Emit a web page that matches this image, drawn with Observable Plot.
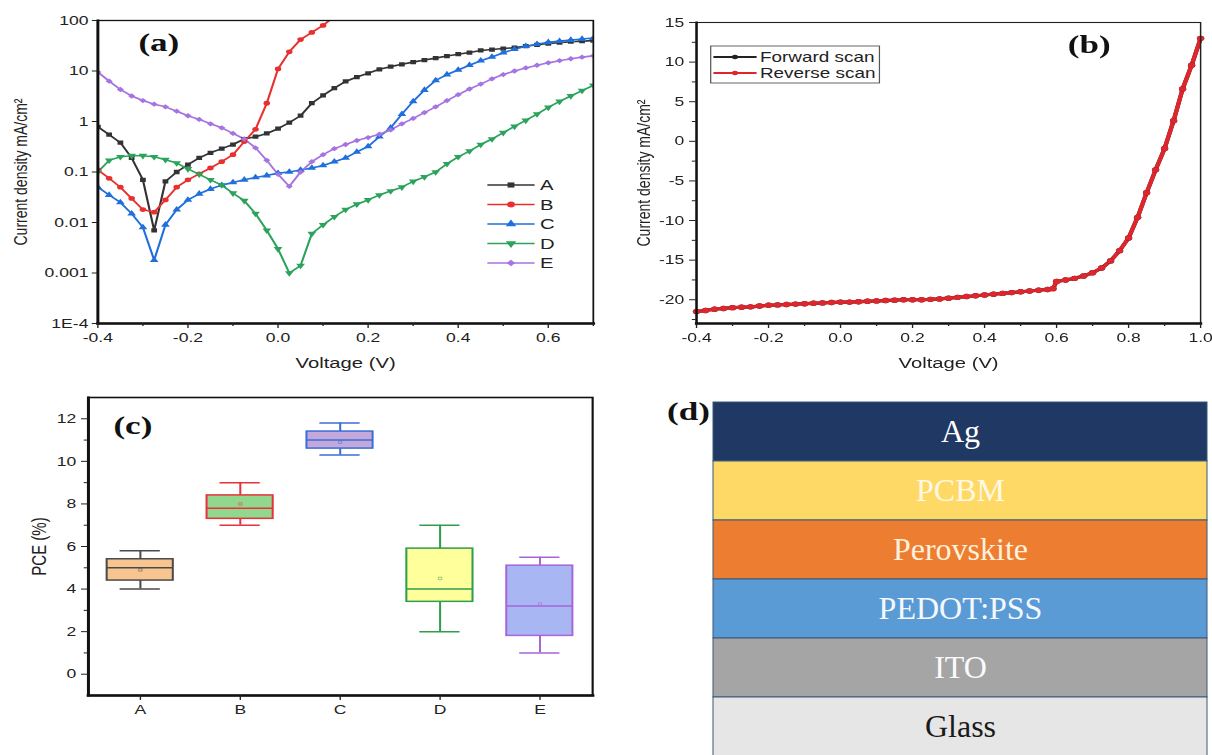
<!DOCTYPE html>
<html><head><meta charset="utf-8">
<script src="https://cdn.jsdelivr.net/npm/d3@7"></script>
<script src="https://cdn.jsdelivr.net/npm/@observablehq/plot@0.6"></script>
<style>
body{margin:0;background:#fff;}
#root{position:relative;width:1212px;height:755px;overflow:hidden;background:#fff;font-family:"Liberation Sans",Arial,sans-serif;}
.panel{position:absolute;transform-origin:0 0;}
.panel svg{display:block;overflow:visible;}
</style></head><body><div id="root"></div>
<script>
// ---------------- DATA ----------------
// (a) dark J-V, log scale
const seriesA = ["A","B","C","D","E"];
const voltageA = [-0.4,-0.375,-0.35,-0.325,-0.3,-0.275,-0.25,-0.225,-0.2,-0.175,-0.15,-0.125,-0.1,-0.075,-0.05,-0.025,0,0.025,0.05,0.075,0.1,0.125,0.15,0.175,0.2,0.225,0.25,0.275,0.3,0.325,0.35,0.375,0.4,0.425,0.45,0.475,0.5,0.525,0.55,0.575,0.6,0.625,0.65,0.675,0.7];
const jA = [0.78,0.55,0.38,0.19,0.07,0.007,0.065,0.1,0.14,0.19,0.24,0.29,0.35,0.45,0.5,0.58,0.72,0.95,1.3,2.3,3.3,4.6,6.2,7.6,9.0,10.8,12.2,13.6,15,16.5,18,19.8,21.5,23.2,25.5,26.6,27.8,29,31,33,35,36.5,38,39,40];
const jB = [0.11,0.075,0.05,0.03,0.018,0.016,0.028,0.05,0.07,0.092,0.12,0.16,0.22,0.4,0.7,2.3,11,24,42,58,80,120];
const jC = [0.05,0.035,0.025,0.015,0.008,0.0018,0.009,0.018,0.028,0.037,0.046,0.055,0.062,0.07,0.078,0.085,0.095,0.1,0.11,0.12,0.135,0.16,0.19,0.25,0.32,0.5,0.75,1.4,2.5,4.2,6.5,8.5,10.5,13,16,19,23,27,31,34,37,39,41,43,45];
const jD = [0.1,0.17,0.2,0.21,0.21,0.2,0.175,0.15,0.115,0.09,0.07,0.055,0.038,0.027,0.015,0.007,0.003,0.001,0.0014,0.006,0.009,0.013,0.018,0.023,0.028,0.035,0.042,0.05,0.065,0.08,0.1,0.145,0.2,0.26,0.35,0.45,0.6,0.8,1.05,1.4,1.9,2.5,3.2,4.1,5.2];
const jE = [9.5,6.3,4.3,3.2,2.6,2.2,1.95,1.6,1.3,1.1,0.9,0.75,0.58,0.45,0.3,0.17,0.09,0.052,0.1,0.16,0.22,0.29,0.35,0.42,0.48,0.56,0.68,0.9,1.15,1.5,1.95,2.6,3.4,4.4,5.5,7,8.5,10,11.5,13,14.5,16,17.5,18.8,20];
const yTicksA = [1e-4,1e-3,1e-2,0.1,1,10,100];
const yTickLabelsA = ["1E-4","0.001","0.01","0.1","1","10","100"];
const xTicksA = [-0.4,-0.2,0,0.2,0.4,0.6];
const xMinorA = [-0.3,-0.1,0.1,0.3,0.5,0.7];

// (b) illuminated J-V
const scansB = ["Forward scan","Reverse scan"];
const voltageB = [-0.4,-0.375,-0.35,-0.325,-0.3,-0.275,-0.25,-0.225,-0.2,-0.175,-0.15,-0.125,-0.1,-0.075,-0.05,-0.025,0,0.025,0.05,0.075,0.1,0.125,0.15,0.175,0.2,0.225,0.25,0.275,0.3,0.325,0.35,0.375,0.4,0.425,0.45,0.475,0.5,0.525,0.55,0.575,0.59,0.6,0.625,0.65,0.675,0.7,0.725,0.75,0.775,0.8,0.825,0.85,0.875,0.9,0.925,0.95,0.975,1.0];
const jReverse = [-21.5,-21.35,-21.2,-21.1,-21.0,-20.95,-20.9,-20.8,-20.7,-20.65,-20.6,-20.55,-20.5,-20.45,-20.4,-20.35,-20.3,-20.3,-20.25,-20.2,-20.15,-20.1,-20.05,-20.0,-20.0,-20.0,-19.95,-19.9,-19.8,-19.7,-19.6,-19.5,-19.4,-19.3,-19.2,-19.1,-19.0,-18.9,-18.8,-18.7,-18.6,-17.7,-17.5,-17.3,-17.0,-16.6,-16.0,-15.1,-13.8,-12.2,-9.6,-6.5,-3.6,-0.9,2.6,6.6,9.6,13.0];
const jForward = [-21.5,-21.35,-21.2,-21.1,-21.0,-20.95,-20.9,-20.8,-20.7,-20.65,-20.6,-20.55,-20.5,-20.45,-20.4,-20.35,-20.3,-20.3,-20.25,-20.2,-20.15,-20.1,-20.05,-20.0,-20.0,-20.0,-19.95,-19.9,-19.8,-19.7,-19.6,-19.5,-19.4,-19.3,-19.2,-19.1,-19.0,-18.9,-18.8,-18.7,-18.6,-17.7,-17.5,-17.3,-17.0,-16.6,-16.0,-15.1,-13.8,-12.2,-9.6,-6.5,-3.6,-0.9,2.6,6.6,9.6,13.0];
const xTicksB = [-0.4,-0.2,0,0.2,0.4,0.6,0.8,1.0];
const xMinorB = [-0.3,-0.1,0.1,0.3,0.5,0.7,0.9];
const yTicksB = [-20,-15,-10,-5,0,5,10,15];
const yMinorB = [-22.5,-17.5,-12.5,-7.5,-2.5,2.5,7.5,12.5];

// (c) PCE box plot
const devicesC = ["A","B","C","D","E"];
const pceMin = [4.0,7.0,10.3,2.0,1.0];
const pceQ1 = [4.4,7.3,10.6,3.4,1.8];
const pceMedian = [5.0,7.8,11.0,4.0,3.2];
const pceQ3 = [5.4,8.4,11.4,5.9,5.1];
const pceMax = [5.8,9.0,11.8,7.0,5.5];
const pceMean = [4.9,8.0,10.9,4.5,3.3];
const yTicksC = [0,2,4,6,8,10,12];
const yMinorC = [1,3,5,7,9,11];

// (d) device layers (top to bottom)
const layersD = ["Ag","PCBM","Perovskite","PEDOT:PSS","ITO","Glass"];

// ---------------- HELPERS ----------------
const SX = 1.35;
const root = document.getElementById("root");
function panel(left, top, stretch) {
  const d = document.createElement("div");
  d.className = "panel";
  d.style.left = left + "px"; d.style.top = top + "px";
  if (stretch) d.style.transform = `scaleX(${stretch})`;
  root.appendChild(d);
  return d;
}
const fmt1 = d => d.toFixed(1);
const baseStyle = {fontFamily: '"Liberation Sans", Arial, sans-serif', fontSize: "13px", color: "#222", background: "transparent", overflow: "visible"};
const triangleDown = {draw(ctx, size) {
  const s3 = Math.sqrt(3), y = Math.sqrt(size / (s3 * 3));
  ctx.moveTo(0, y * 2); ctx.lineTo(-s3 * y, -y); ctx.lineTo(s3 * y, -y); ctx.closePath();
}};
const colorsA = ["#333333","#e8312f","#1f6fdc","#2ba35a","#a674e0"];
const symbolsA = [d3.symbolSquare, d3.symbolCircle, d3.symbolTriangle, triangleDown, d3.symbolDiamond2];
const panelLabel = (t, dx, dy) => Plot.text([t], {frameAnchor: "top-left", textAnchor: "start", lineAnchor: "top", dx, dy, fontFamily: '"Liberation Serif", serif', fontWeight: "bold", fontSize: 26, fill: "#111"});
const yLabel = (t, dx, size) => Plot.text([t], {frameAnchor: "left", textAnchor: "middle", lineAnchor: "middle", rotate: -90, dx, fontSize: size, fill: "#222"});

// ---------------- PANEL (a) ----------------
{
  const valuesA = [jA, jB, jC, jD, jE];
  const rowsA = seriesA.flatMap((s, k) => valuesA[k].map((j, i) => ({series: s, v: voltageA[i], j})));
  const W = 444;
  const p = Plot.plot({
    width: W, height: 380, marginLeft: 72, marginRight: 5, marginTop: 20, marginBottom: 57,
    style: baseStyle,
    x: {domain: [-0.4, 0.7]},
    y: {type: "log", domain: [1e-4, 100]},
    color: {domain: seriesA, range: colorsA},
    symbol: {domain: seriesA, range: symbolsA},
    marks: [
      Plot.line(rowsA, {x: "v", y: "j", z: "series", stroke: "series", strokeWidth: 1.6, clip: true}),
      Plot.dot(rowsA, {x: "v", y: "j", symbol: "series", fill: "series", r: 2.4, clip: true}),
      Plot.frame({stroke: "#111", strokeWidth: 1.3}),
      Plot.frame({anchor: "left", stroke: "#111", strokeWidth: 2.2}),
      Plot.frame({anchor: "bottom", stroke: "#111", strokeWidth: 2.6}),
      Plot.axisX(xTicksA, {tickSize: 5, tickPadding: 4, tickFormat: fmt1, label: null, fontSize: 13}),
      Plot.axisX(xMinorA, {tickSize: 3, tickFormat: () => "", label: null}),
      Plot.axisY(yTicksA, {tickSize: 4, tickPadding: 3, tickFormat: d => yTickLabelsA[yTicksA.indexOf(d)], label: null, fontSize: 13}),
      Plot.text(["Voltage (V)"], {frameAnchor: "bottom", dy: 40, lineAnchor: "middle", fontSize: 15, fill: "#222"}),
      yLabel("Current density mA/cm²", -57, 14),
      panelLabel("(a)", 30, 12)
    ]
  });
  const c = panel(0, 0, SX);
  c.appendChild(p);
  const lg = d3.create("svg").attr("width", W).attr("height", 380)
    .style("position", "absolute").style("left", 0).style("top", 0);
  seriesA.forEach((s, k) => {
    const y = 185 + k * 19.5;
    lg.append("line").attr("x1", 361).attr("x2", 396).attr("y1", y).attr("y2", y).attr("stroke", colorsA[k]).attr("stroke-width", 1.6);
    lg.append("path").attr("d", d3.symbol(symbolsA[k], 26)()).attr("transform", `translate(378.5,${y})`).attr("fill", colorsA[k]);
    lg.append("text").attr("x", 400).attr("y", y).attr("dy", "0.35em").attr("font-size", 15).attr("fill", "#222").text(s);
  });
  c.appendChild(lg.node());
}

// ---------------- PANEL (b) ----------------
{
  const valuesB = [jForward, jReverse];
  const colorsB = ["#222222", "#e0262c"];
  const rowsB = scansB.flatMap((s, k) => valuesB[k].map((j, i) => ({scan: s, v: voltageB[i], j})));
  const W = 453;
  const p = Plot.plot({
    width: W, height: 380, marginLeft: 71, marginRight: 8.6, marginTop: 22, marginBottom: 57,
    style: baseStyle,
    x: {domain: [-0.4, 1.0]},
    y: {domain: [-23, 15]},
    color: {domain: scansB, range: colorsB},
    marks: [
      Plot.line(rowsB, {x: "v", y: "j", z: "scan", stroke: "scan", strokeWidth: 3.2}),
      Plot.dot(rowsB, {x: "v", y: "j", fill: "scan", r: 2.7}),
      Plot.frame({stroke: "#222", strokeWidth: 1.1}),
      Plot.frame({anchor: "left", stroke: "#111", strokeWidth: 1.8}),
      Plot.frame({anchor: "bottom", stroke: "#111", strokeWidth: 2.4}),
      Plot.axisX(xTicksB, {tickSize: 5, tickPadding: 4, tickFormat: fmt1, label: null, fontSize: 13}),
      Plot.axisX(xMinorB, {tickSize: 3, tickFormat: () => "", label: null}),
      Plot.axisY(yTicksB, {tickSize: 5, tickPadding: 4, tickFormat: d => String(d), label: null, fontSize: 13}),
      Plot.axisY(yMinorB, {tickSize: 3, tickFormat: () => "", label: null}),
      Plot.text(["Voltage (V)"], {frameAnchor: "bottom", dy: 40, lineAnchor: "middle", fontSize: 15, fill: "#222"}),
      yLabel("Current density mA/cm²", -39, 14),
      panelLabel("(b)", 275, 12)
    ]
  });
  const c = panel(600, 0, SX);
  c.appendChild(p);
  const lg = d3.create("svg").attr("width", W).attr("height", 380)
    .style("position", "absolute").style("left", 0).style("top", 0);
  lg.append("rect").attr("x", 82).attr("y", 46).attr("width", 125).attr("height", 37).attr("fill", "#fff").attr("stroke", "#555").attr("stroke-width", 0.9);
  scansB.forEach((s, k) => {
    const y = 57 + k * 16;
    lg.append("line").attr("x1", 84).attr("x2", 116).attr("y1", y).attr("y2", y).attr("stroke", colorsB[k]).attr("stroke-width", 2);
    lg.append("circle").attr("cx", 100).attr("cy", y).attr("r", 2.2).attr("fill", colorsB[k]);
    lg.append("text").attr("x", 118.5).attr("y", y).attr("dy", "0.35em").attr("font-size", 14).attr("fill", "#222").text(s);
  });
  c.appendChild(lg.node());
}

// ---------------- PANEL (c) ----------------
{
  const rowsC = devicesC.map((cat, i) => ({cat, lo: pceMin[i], q1: pceQ1[i], med: pceMedian[i], q3: pceQ3[i], hi: pceMax[i], mean: pceMean[i]}));
  const strokeC = {A: "#4a4a4a", B: "#e8313b", C: "#3a6ed6", D: "#2e9d4c", E: "#a765d8"};
  const sc = d => strokeC[d.cat];
  const capInset = 9.6;
  const p = Plot.plot({
    width: 444, height: 375, marginLeft: 65, marginRight: 5.5, marginTop: 17, marginBottom: 60,
    style: baseStyle,
    x: {domain: devicesC, type: "band", paddingInner: 0.34, paddingOuter: 0.19},
    y: {domain: [-1, 13]},
    color: {domain: devicesC, range: ["#f8c490", "#92d78e", "#c3a8dc", "#ffff9c", "#a9b6f4"]},
    marks: [
      Plot.ruleX(rowsC, {x: "cat", y1: "lo", y2: "q1", stroke: sc, strokeWidth: 1.5}),
      Plot.ruleX(rowsC, {x: "cat", y1: "q3", y2: "hi", stroke: sc, strokeWidth: 1.5}),
      Plot.tickY(rowsC, {x: "cat", y: "lo", stroke: sc, strokeWidth: 1.5, insetLeft: capInset, insetRight: capInset}),
      Plot.tickY(rowsC, {x: "cat", y: "hi", stroke: sc, strokeWidth: 1.5, insetLeft: capInset, insetRight: capInset}),
      Plot.barY(rowsC, {x: "cat", y1: "q1", y2: "q3", fill: "cat", stroke: sc, strokeWidth: 1.5}),
      Plot.tickY(rowsC, {x: "cat", y: "med", stroke: sc, strokeWidth: 1.5}),
      Plot.dot(rowsC, {x: "cat", y: "mean", symbol: "square", r: 1.4, fill: "none", stroke: sc, strokeWidth: 0.6, strokeOpacity: 0.7}),
      Plot.frame({stroke: "#111", strokeWidth: 1.6}),
      Plot.frame({anchor: "left", stroke: "#111", strokeWidth: 2.2}),
      Plot.frame({anchor: "bottom", stroke: "#111", strokeWidth: 2.6}),
      Plot.axisX(devicesC, {tickSize: 5, tickPadding: 4, label: null, fontSize: 13}),
      Plot.axisY(yTicksC, {tickSize: 5, tickPadding: 4, label: null, fontSize: 13}),
      Plot.axisY(yMinorC, {tickSize: 3, tickFormat: () => "", label: null}),
      yLabel("PCE (%)", -36, 15),
      panelLabel("(c)", 18.5, 18)
    ]
  });
  panel(0, 380, SX).appendChild(p);
}

// ---------------- PANEL (d) ----------------
{
  const textFill = {"Ag": "#ffffff", "PCBM": "#fff8e4", "Perovskite": "#fff1dc", "PEDOT:PSS": "#f4f9ff", "ITO": "#fbfbfb", "Glass": "#1a1a1a"};
  const p = Plot.plot({
    width: 494, height: 356, margin: 0,
    style: {background: "transparent", overflow: "visible"},
    x: {domain: [0, 1], axis: null},
    y: {domain: layersD, axis: null, padding: 0},
    color: {domain: layersD, range: ["#1f3864", "#ffd966", "#ed7d31", "#5b9bd5", "#a5a5a5", "#e7e6e6"]},
    marks: [
      Plot.barX(layersD, {x1: 0, x2: 1, y: d => d, fill: d => d, stroke: "#3b5878", strokeWidth: 1}),
      Plot.text(layersD, {x: 0.5, y: d => d, text: d => d, fill: d => textFill[d], fontFamily: '"Liberation Serif", "Times New Roman", serif', fontSize: 32})
    ]
  });
  panel(713, 401, null).appendChild(p);
  const lab = document.createElement("div");
  lab.className = "panel";
  lab.style.cssText = `left:667px;top:399px;transform:scaleX(${SX});font:bold 26px "Liberation Serif",serif;color:#111;line-height:1;`;
  lab.textContent = "(d)";
  root.appendChild(lab);
}
</script></body></html>
